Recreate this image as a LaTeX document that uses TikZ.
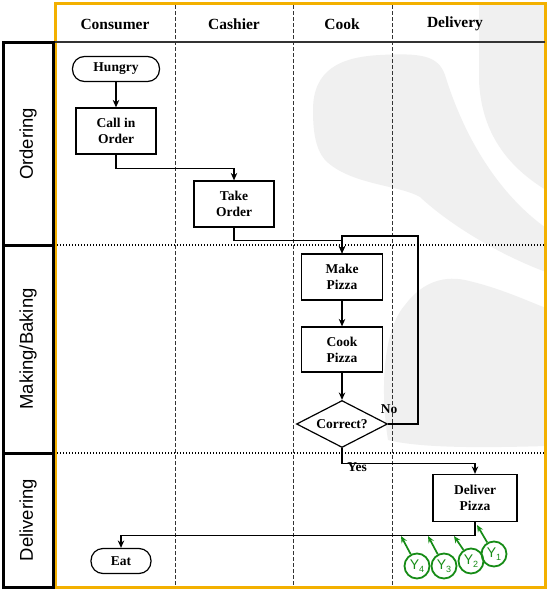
\documentclass[tikz,border=0pt]{standalone}
\usepackage{fontspec}
\setmainfont{Liberation Serif}
\setsansfont{Liberation Sans}
\usetikzlibrary{shapes.geometric,arrows.meta}

\definecolor{frameorange}{RGB}{243,176,0}
\definecolor{flowgreen}{RGB}{22,140,22}
\definecolor{markgray}{RGB}{240,240,240}

\tikzset{
  flow/.style={line width=1.2pt,-{Stealth[length=7.5pt,width=6.5pt,inset=2.5pt]}},
  gflow/.style={flowgreen,line width=1.7pt,-{Stealth[length=7pt,width=6pt,inset=2.5pt]}},
  procbox/.style={draw,line width=1.2pt,minimum width=81pt,minimum height=46pt,
    inner sep=0pt,align=center,font=\bfseries\fontsize{13.5}{16}\selectfont},
  termbox/.style={draw,line width=1.2pt,rounded corners=12pt,minimum height=25pt,
    inner sep=0pt,font=\bfseries\fontsize{13.5}{16}\selectfont},
  decision/.style={draw,diamond,aspect=2,line width=1.2pt,minimum width=91pt,
    minimum height=47pt,inner sep=0pt,font=\bfseries\fontsize{13.5}{16}\selectfont},
  branchlabel/.style={font=\bfseries\fontsize{13.5}{16}\selectfont,inner sep=0pt},
  colhead/.style={font=\bfseries\fontsize{15.5}{18}\selectfont,inner sep=0pt},
  rowhead/.style={rotate=90,font=\sffamily\fontsize{18.5}{20}\selectfont,inner sep=0pt},
  colsep/.style={dash pattern=on 3.5pt off 2.5pt,line width=0.9pt,black!80},
  rowsep/.style={line width=1.3pt,dash pattern=on 1.4pt off 1.6pt},
  lanebox/.style={draw,line width=3pt},
  ycirc/.style={draw=flowgreen,circle,line width=1.8pt,minimum size=25pt,inner sep=0pt,
    text=flowgreen,font=\sffamily\fontsize{14}{14}\selectfont},
}

\newcommand{\ysub}[1]{Y\raisebox{-0.45ex}{\fontsize{9}{9}\selectfont #1}}

\begin{document}
\begin{tikzpicture}[x=1pt,y=-1pt]
\useasboundingbox[fill=white] (0,0) rectangle (547,589);

% faint background emblem
\fill[markgray] (479,3) -- (479,80) .. controls (481,130) and (505,165) .. (546,190)
  -- (546,3) -- cycle;
\fill[markgray] (313,110) .. controls (313,70) and (340,57) .. (380,55)
  .. controls (420,53) and (438,55) .. (445,75)
  .. controls (465,140) and (500,195) .. (546,228)
  -- (546,272)
  .. controls (500,255) and (450,225) .. (420,197)
  .. controls (400,185) and (350,185) .. (325,160)
  .. controls (315,148) and (313,130) .. (313,110) -- cycle;
\fill[markgray] (388,440) .. controls (380,390) and (383,330) .. (405,305)
  .. controls (420,285) and (440,275) .. (465,280)
  .. controls (500,288) and (525,300) .. (546,308)
  -- (546,446) .. controls (480,448) and (420,448) .. (388,440) -- cycle;

% pool frame
\draw[frameorange,line width=3pt] (55,3.5) rectangle (545.5,587.5);

% column separators and header rule
\draw[colsep] (175,5) -- (175,586);
\draw[colsep] (293,5) -- (293,586);
\draw[colsep] (392,5) -- (392,586);
\draw[line width=1.2pt,black!80] (55,42) -- (545,42);

% row separators
\draw[rowsep] (57,245) -- (544,245);
\draw[rowsep] (57,453) -- (544,453);

% row header boxes
\draw[lanebox] (3,42) rectangle (53,245);
\draw[lanebox] (3,245) rectangle (53,453);
\draw[lanebox] (3,453) rectangle (53,587);

% headers
\node[colhead] (hconsumer) at (115,24) {Consumer};
\node[colhead] (hcashier) at (234,24) {Cashier};
\node[colhead] (hcook) at (342,24) {Cook};
\node[colhead] (hdelivery) at (455,24) {Delivery};

\node[rowhead] (rordering) at (28,144) {Ordering};
\node[rowhead] (rmaking) at (28,349) {Making/Baking};
\node[rowhead] (rdelivering) at (28,520) {Delivering};

% process steps
\node[termbox,minimum width=87pt] (hungry) at (116,69) {Hungry};
\node[procbox,minimum width=80pt] (call) at (116,131) {Call in\\Order};
\node[procbox,minimum width=80pt] (take) at (234,204) {Take\\Order};
\node[procbox] (make) at (342,277) {Make\\Pizza};
\node[procbox,minimum height=45pt] (cook) at (342,349.5) {Cook\\Pizza};
\node[decision] (correct) at (342,424) {Correct?};
\node[procbox,minimum width=84pt,minimum height=47pt] (deliver) at (475,498) {Deliver\\Pizza};
\node[termbox,minimum width=60pt] (eat) at (121,561) {Eat};

% flow
\draw[flow] (hungry) -- (call);
\draw[flow] (call.south) -- ++(0,14) -| (take.north);
\draw[flow] (take.south) -- ++(0,12.5) -| (make.north);
\draw[flow] (make) -- (cook);
\draw[flow] (cook) -- (correct);
\coordinate (loopcorner) at (418,236);
\draw[flow] (correct.east) -| (loopcorner) -| (make.north);
\draw[flow] (correct.south) -- ++(0,15) -| (deliver.north);
\draw[flow] (deliver.south) -- ++(0,13) -| (eat.north);
\node[branchlabel] (nolabel) at (389,409) {No};
\node[branchlabel] (yeslabel) at (357,467) {Yes};

% green markers
\node[ycirc] (y1) at (494,554) {\ysub{1}};
\node[ycirc] (y2) at (471,561) {\ysub{2}};
\node[ycirc] (y3) at (444,566) {\ysub{3}};
\node[ycirc] (y4) at (417,566) {\ysub{4}};
\coordinate (t1) at (477,525);
\coordinate (t2) at (454,536);
\coordinate (t3) at (428,536);
\coordinate (t4) at (401,536);
\draw[gflow] (y1) -- (t1);
\draw[gflow] (y2) -- (t2);
\draw[gflow] (y3) -- (t3);
\draw[gflow] (y4) -- (t4);
\end{tikzpicture}
\end{document}
